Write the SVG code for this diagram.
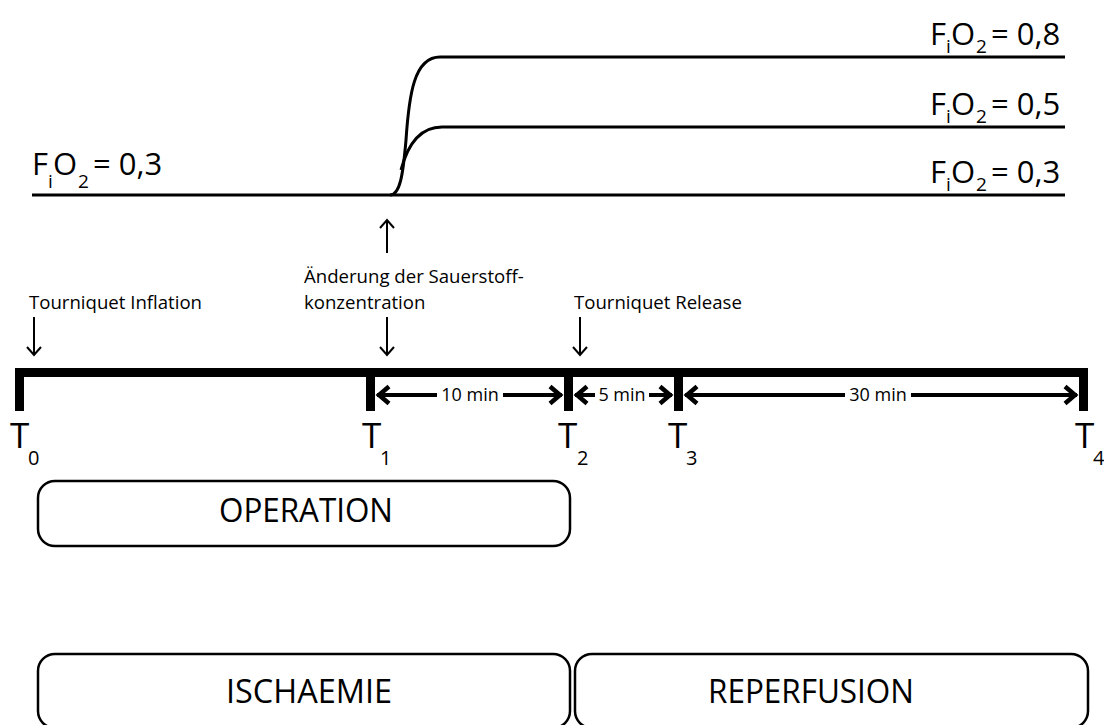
<svg xmlns="http://www.w3.org/2000/svg" width="1104" height="725" viewBox="0 0 1104 725">
<defs>
<style>
text{font-family:"Open Sans","Noto Sans","Liberation Sans",sans-serif;fill:#000}
.lbl{font-size:31px}
.sub{font-size:19px}
.ann{font-size:18.6px}
.dim{font-size:18px}
.tl{font-size:35px}
.ts{font-size:20px}
.box{fill:#fff;stroke:#000;stroke-width:2.5}
.bt{font-size:33px}
.curve{fill:none;stroke:#000;stroke-width:3}
.thin{fill:none;stroke:#000;stroke-width:2}
.dl{fill:none;stroke:#000;stroke-width:4}
</style>
<marker id="ah" viewBox="-10 -10 12 20" markerWidth="12" markerHeight="20" refX="0" refY="0" orient="auto" markerUnits="userSpaceOnUse">
<path d="M-8,-7 L0,0 L-8,7" fill="none" stroke="#000" stroke-width="2"/>
</marker>
<marker id="dh" viewBox="-14 -12 18 24" markerWidth="18" markerHeight="24" refX="1" refY="0" orient="auto-start-reverse" markerUnits="userSpaceOnUse">
<path d="M-11,-8.5 L-1,0 L-11,8.5" fill="none" stroke="#000" stroke-width="4.5"/>
</marker>
</defs>
<rect width="1104" height="725" fill="#fff"/>

<g id="fio2-curves">
<path class="curve" d="M32,195 L1065,195"/>
<path class="curve" d="M390,195 C400,195 403,175 406,140 C409,95 414,57 440,57 L1065,57"/>
<path class="curve" d="M401,170 C407,147 419,127 442,127 L1065,127"/>
</g>

<g id="fio2-labels">
<text class="lbl" y="175"><tspan x="32">F</tspan><tspan class="sub" x="48" y="188">i</tspan><tspan x="53" y="175">O</tspan><tspan class="sub" x="78" y="188">2</tspan><tspan x="93" y="175">= 0,3</tspan></text>
<text class="lbl" y="45"><tspan x="930">F</tspan><tspan class="sub" x="946" y="53">i</tspan><tspan x="951" y="45">O</tspan><tspan class="sub" x="976" y="53">2</tspan><tspan x="991" y="45">= 0,8</tspan></text>
<text class="lbl" y="115"><tspan x="930">F</tspan><tspan class="sub" x="946" y="123">i</tspan><tspan x="951" y="115">O</tspan><tspan class="sub" x="976" y="123">2</tspan><tspan x="991" y="115">= 0,5</tspan></text>
<text class="lbl" y="183"><tspan x="930">F</tspan><tspan class="sub" x="946" y="191">i</tspan><tspan x="951" y="183">O</tspan><tspan class="sub" x="976" y="191">2</tspan><tspan x="991" y="183">= 0,3</tspan></text>
</g>

<g id="annotations">
<text class="ann" x="29" y="309">Tourniquet Inflation</text>
<text class="ann" x="304" y="283">Änderung der Sauerstoff-</text>
<text class="ann" x="304" y="309">konzentration</text>
<text class="ann" x="574" y="309">Tourniquet Release</text>
</g>

<g id="connectors">
<path class="thin" d="M387,253 L387,220" marker-end="url(#ah)"/>
<path class="thin" d="M34,317 L34,355" marker-end="url(#ah)"/>
<path class="thin" d="M387,317 L387,355" marker-end="url(#ah)"/>
<path class="thin" d="M580,317 L580,355" marker-end="url(#ah)"/>
</g>

<g id="timeline">
<rect x="15" y="368" width="1073" height="9"/>
<rect x="15" y="368" width="9" height="43"/>
<rect x="366" y="368" width="9" height="43"/>
<rect x="564" y="368" width="9" height="43"/>
<rect x="674" y="368" width="9" height="43"/>
<rect x="1079" y="368" width="9" height="43"/>
</g>

<g id="durations">
<path class="dl" d="M437,395 L377,395" marker-end="url(#dh)"/>
<path class="dl" d="M503,395 L562,395" marker-end="url(#dh)"/>
<text class="dim" x="470" y="401" text-anchor="middle">10 min</text>
<path class="dl" d="M595,395 L575,395" marker-end="url(#dh)"/>
<path class="dl" d="M649,395 L672,395" marker-end="url(#dh)"/>
<text class="dim" x="622" y="401" text-anchor="middle">5 min</text>
<path class="dl" d="M845,395 L685,395" marker-end="url(#dh)"/>
<path class="dl" d="M911,395 L1077,395" marker-end="url(#dh)"/>
<text class="dim" x="878" y="401" text-anchor="middle">30 min</text>
</g>

<g id="time-labels">
<text class="tl" x="10" y="448">T<tspan class="ts" x="28" y="465">0</tspan></text>
<text class="tl" x="362" y="448">T<tspan class="ts" x="380" y="465">1</tspan></text>
<text class="tl" x="558" y="448">T<tspan class="ts" x="577" y="465">2</tspan></text>
<text class="tl" x="668" y="448">T<tspan class="ts" x="686" y="465">3</tspan></text>
<text class="tl" x="1075" y="448">T<tspan class="ts" x="1093" y="465">4</tspan></text>
</g>

<g id="operation">
<rect class="box" x="38" y="481" width="532" height="65" rx="17"/>
<text class="bt" x="306" y="522" text-anchor="middle" textLength="174" lengthAdjust="spacingAndGlyphs">OPERATION</text>
</g>
<g id="ischaemie">
<rect class="box" x="38" y="654" width="532" height="74" rx="17"/>
<text class="bt" x="309" y="703" text-anchor="middle" textLength="166" lengthAdjust="spacingAndGlyphs">ISCHAEMIE</text>
</g>
<g id="reperfusion">
<rect class="box" x="575" y="654" width="513" height="74" rx="17"/>
<text class="bt" x="811" y="703" text-anchor="middle" textLength="206" lengthAdjust="spacingAndGlyphs">REPERFUSION</text>
</g>
</svg>
